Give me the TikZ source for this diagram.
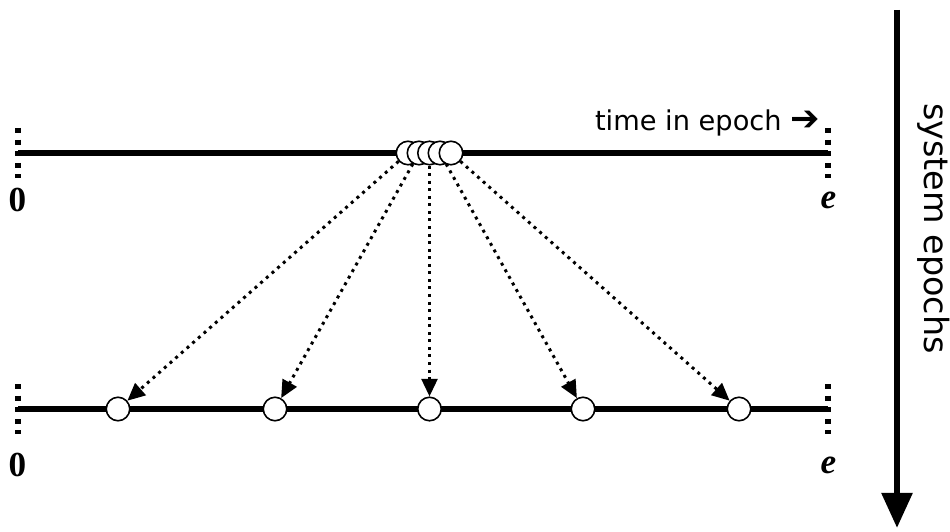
\documentclass[tikz,border=0pt]{standalone}
\usepackage{fontspec}
\setmainfont{DejaVu Sans}
\newfontfamily\tnr{Liberation Serif}
\usetikzlibrary{arrows.meta,positioning}
\tikzset{
  epline/.style={line width=3pt},
  bnd/.style={line width=3pt,dash pattern=on 3pt off 3.6pt},
  evt/.style={circle,draw=black,fill=white,line width=0.9pt,inner sep=0pt,minimum size=0.47cm},
  darr/.style={-{Triangle[length=10pt,width=9pt]},line width=1.7pt,dash pattern=on 1.7pt off 2.6pt},
  bigarr/.style={-{Triangle[length=20pt,width=17pt]},line width=3.6pt},
  lbl/.style={font=\tnr\fontsize{20}{20}\selectfont\bfseries},
}
\begin{document}
\begin{tikzpicture}
  \useasboundingbox (0,0) rectangle (19,10.62);
  % epoch lines with their bounds
  \foreach \ep/\yy/\dy in {a/7.56/0.94,b/2.44/1.12} {
    \coordinate (\ep0) at (0.36,\yy); \coordinate (\ep1) at (16.56,\yy);
    \coordinate (\ep0u) at (0.36,\yy+0.5); \coordinate (\ep0d) at (0.36,\yy-0.5);
    \coordinate (\ep1u) at (16.56,\yy+0.5); \coordinate (\ep1d) at (16.56,\yy-0.5);
    \draw[epline] (\ep0) -- (\ep1);
    \draw[bnd] (\ep0u) -- (\ep0d); \draw[bnd] (\ep1u) -- (\ep1d);
    \node[lbl] (\ep z) at (0.35,\yy-\dy) {0};
    \node[lbl] (\ep e) at (16.57,\yy-\dy) {\itshape e};
  }
  % events bunched in the first epoch
  \foreach \i/\xx in {1/8.16,2/8.38,3/8.59,4/8.80,5/9.02} { \node[evt] (t\i) at (\xx,7.56) {}; }
  % spread out in the next one
  \foreach \i/\xx in {1/2.36,2/5.50,3/8.59,4/11.66,5/14.78} { \node[evt] (b\i) at (\xx,2.44) {}; }
  \foreach \i in {1,...,5} { \draw[darr] (t\i) -- (b\i); }
  \node[font=\fontsize{15.5}{17}\selectfont,anchor=east] (tie) at (16.52,8.17) {time in epoch {\bfseries\fontsize{20}{17}\selectfont ➔}};
  % system epochs
  \coordinate (s0) at (17.94,10.42); \coordinate (s1) at (17.94,0.06);
  \draw[bigarr] (s0) -- (s1);
  \node[font=\fontsize{19}{21}\selectfont,rotate=-90] (sys) at (18.68,6.05) {system epochs};
\end{tikzpicture}
\end{document}
